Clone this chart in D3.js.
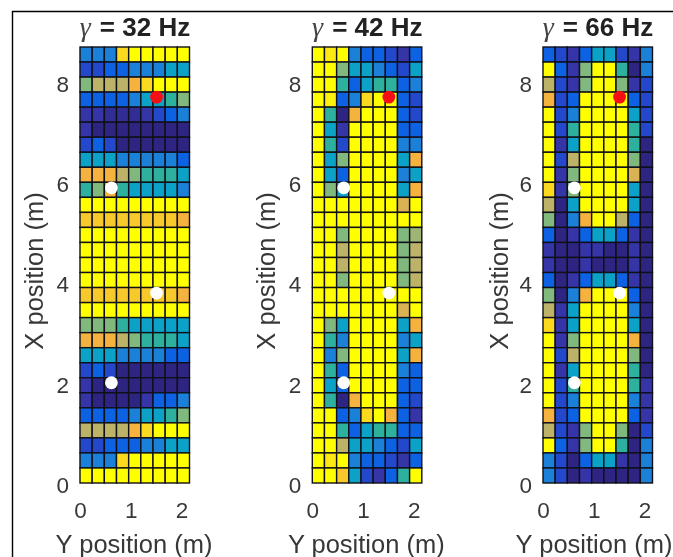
<!DOCTYPE html>
<html>
<head>
<meta charset="utf-8">
<script src="https://cdn.jsdelivr.net/npm/d3@7"></script>
<style>
html, body { margin: 0; padding: 0; background: #fff; overflow: hidden; }
svg { display: block; filter: blur(0.45px); }
text { font-family: "Liberation Sans", Arial, sans-serif; }
</style>
</head>
<body>
<script>
// levels 0-10, listed from the top row (x = 8.7 m) down to the bottom row
const rows32 = [
  [4,4,4,9.5,10,10,10,10,10],
  [2,2,3,3,4,4,4,5,5],
  [7,8,8,8,9,9.5,10,10,10],
  [3,3,3,3,4,5,5,6,7],
  [1,1,0.5,0.5,0.5,1,2,3,4],
  [1,0,0,0,0,0,0,0,0],
  [2,3,2,0,0,0,0,0,0],
  [5,5,5,4,4,4,4,4,3],
  [9,9,9,8,7,6,6,6,5],
  [6,7,9,6,5,5,5,5,4],
  [10,10,10,10,10,10,10,10,10],
  [9.3,9.3,9.3,9.3,9.3,9.3,9.3,9.3,9],
  [10,10,10,10,10,10,10,10,10],
  [10,10,10,10,10,10,10,10,10],
  [10,10,10,10,10,10,10,10,10],
  [10,10,10,10,10,10,10,10,10],
  [9.3,9.3,9.3,9.3,9.3,9.3,9.3,9.3,9],
  [10,10,10,10,10,10,10,10,10],
  [7,7,7,6,5,5,5,5,5],
  [9,9,9,8,7,6,6,6,5],
  [5,5,5,4,4,4,4,3,3],
  [2,3,2,0,0,0,0,0,0],
  [1,0,0,0,0,0,0,0,0],
  [1,0,0,0,0,1,3,3,4],
  [3,3,3,3,4,5,5,6,7],
  [8,8,8,8,9,9.5,10,10,10],
  [2,2,3,3,3,4,4,5,5],
  [4,4,4,9.5,10,10,10,10,10],
  [10,10,10,10,10,10,10,10,10]
];
const rows42 = [
  [10,9.7,10,4,3,3,2,1,3],
  [10,10,7,5,5,4,3,2,5],
  [10,10,6,3,5,6,6,3,4],
  [10,9.8,3,4,9.5,10,10,3,2],
  [10,6,0,9,10,10,10,3,2],
  [10,5,1,10,10,10,10,3,3],
  [10,6,2,10,10,10,10,4,4],
  [10,5,7,10,10,10,10,5,9],
  [10,5,3,10,10,10,10,4,5],
  [10,7,5,10,10,10,10,5,9],
  [10,10,10,10,10,10,10,8.5,10],
  [10,10,10,10,10,10,10,10,10],
  [10,10,7,10,10,10,10,7,7.5],
  [10,10,8,10,10,10,10,7,8],
  [10,10,8,10,10,10,10,7,8],
  [10,10,7,10,10,10,10,7,8],
  [10,10,10,10,10,10,10,10,10],
  [10,10,10,10,10,10,10,8.5,10],
  [10,7,5,10,10,10,10,5,9],
  [10,6,4,10,10,10,10,4,5],
  [10,4,7,10,10,10,10,5,9],
  [10,6,3,10,10,10,10,4,3],
  [10,5,3,10,10,10,10,3,3],
  [10,6,0,9,10,10,10,3,2],
  [10,10,3,4,9.5,10,9,3,1],
  [10,10,6,3,5,6,6,3,3],
  [10,10,8,5,5,4,3,2,5],
  [10,9.7,10,4,3,3,2,1,3],
  [10,10,9.3,5,2,1,3,6,10]
];
const rows66 = [
  [3,2,1,3,5,5,2,1,4],
  [10,3,1,7,10,10,6,0,4],
  [8,2,1,7,10,10,7,1,2],
  [9,2,3,10,10,10,10,3,2],
  [10,2,4,10,10,10,10,5,2],
  [10,2,6,10,10,10,10,6,2],
  [10,1,5,10,10,10,10,6,0],
  [10,2,8,10,10,10,10,7,0],
  [10,1,7,10,10,10,10,8.5,0],
  [9.5,1,7,10,10,10,10,5,0],
  [8,0,5,10,10,10,10,5,0],
  [7,0,4,9,10,10,8,3,0],
  [3,0,1,3,5,5,3,1,0],
  [1,0,0,1,1,0,0,1,0],
  [1,0,0,1,0,0,0,1,0],
  [3,0,1,3,5,5,3,1,0],
  [7,0,4,9,10,10,10,3,0],
  [8,1,5,10,10,10,10,4,0],
  [9.5,1,5,10,10,10,10,5,0],
  [10,1,7,10,10,10,10,9,0],
  [10,2,8,10,10,10,10,7,0],
  [10,1,5,10,10,10,10,6,0],
  [10,2,6,10,10,10,10,6,1],
  [10,2,4,10,10,10,10,4,1],
  [9,2,3,10,10,10,10,3,1],
  [8,2,1,7,10,10,7,0,2],
  [10,3,1,7,10,10,6,0,4],
  [4,2,0,3,5,5,1,0,4],
  [4,2,0,1,0,0,0,0,4]
];

const titles = ['32', '42', '66'];
const panelLefts = [80, 312.3, 543];
const labelOffsets = [37, 37, 35];
const xLabelCentres = [54, 54, 51];
const allRows = [rows32, rows42, rows66];

const xTicks = [0, 1, 2];
const yTicks = [0, 2, 4, 6, 8];
const cellW = 0.24, cellH = 0.3;

// microphone positions, [y, x] in metres
const whiteDots = [[0.62, 5.89], [1.51, 3.79], [0.62, 2.0]];
const redDots = [[1.51, 7.7]];

const levels = d3.range(0, 11);
const levelColors = ['#2e2582','#3535a8','#2448cc','#0c62e2','#1a80d8','#0ca2c8',
                     '#2eb09e','#80b87e','#bcb268','#f5b23e','#ffff00'];
const color = d3.scaleLinear().domain(levels).range(levelColors);

const svg = d3.select('body').append('svg')
    .attr('width', 673)
    .attr('height', 557);

svg.append('rect').attr('width', 673).attr('height', 557).attr('fill', '#fff');

// outer frame, runs off the photo to the right and bottom
svg.append('path')
    .attr('d', 'M12.5,557V11.5H673')
    .attr('fill', 'none')
    .attr('stroke', '#000')
    .attr('stroke-width', 1.4);

const plotTop = 47, plotBottom = 483, plotW = 109.5;

allRows.forEach(function (rows, p) {
    const g = svg.append('g').attr('transform', 'translate(' + panelLefts[p] + ',0)');

    const x = d3.scaleLinear().domain([0, cellW * 9]).range([0, plotW]);
    const y = d3.scaleLinear().domain([0, cellH * rows.length]).range([plotBottom, plotTop]);

    // flatten the rows into cells
    const cells = [];
    rows.forEach(function (r, i) {
        r.forEach(function (v, j) {
            cells.push({col: j, row: rows.length - 1 - i, v: v});
        });
    });

    g.selectAll('rect.cell')
        .data(cells)
        .enter().append('rect')
        .attr('class', 'cell')
        .attr('x', d => x(d.col * cellW))
        .attr('y', d => y((d.row + 1) * cellH))
        .attr('width', x(cellW) - x(0))
        .attr('height', y(0) - y(cellH))
        .attr('fill', d => color(d.v))
        .attr('stroke', '#101018')
        .attr('stroke-width', 1.4);

    // axes
    const xAxis = g.append('g')
        .attr('transform', 'translate(0,' + plotBottom + ')')
        .call(d3.axisBottom(x).tickValues(xTicks).tickSize(0).tickFormat(d3.format('d')));
    xAxis.select('.domain').remove();
    xAxis.selectAll('text')
        .attr('y', 19)
        .attr('fill', '#383838')
        .attr('font-size', 22.5);

    const yAxis = g.append('g')
        .call(d3.axisLeft(y).tickValues(yTicks).tickSize(0).tickFormat(d3.format('d')));
    yAxis.select('.domain').remove();
    yAxis.selectAll('text')
        .attr('x', -11)
        .attr('dy', '0.42em')
        .attr('fill', '#383838')
        .attr('font-size', 22.5);

    g.append('text')
        .attr('x', xLabelCentres[p])
        .attr('y', 553)
        .attr('text-anchor', 'middle')
        .attr('fill', '#383838')
        .attr('font-size', 25.5)
        .text('Y position (m)');

    g.append('text')
        .attr('transform', 'translate(' + (-labelOffsets[p]) + ',271) rotate(-90)')
        .attr('text-anchor', 'middle')
        .attr('fill', '#383838')
        .attr('font-size', 25.5)
        .text('X position (m)');

    const title = g.append('text')
        .attr('x', 55)
        .attr('y', 36)
        .attr('text-anchor', 'middle')
        .attr('fill', '#222');
    title.append('tspan')
        .attr('font-family', '"Liberation Serif", serif')
        .attr('font-style', 'italic')
        .attr('font-size', 28)
        .attr('fill', '#444')
        .text('\u03b3');
    title.append('tspan')
        .attr('dx', 9)
        .attr('font-weight', 'bold')
        .attr('font-size', 26)
        .text('= ' + titles[p] + ' Hz');

    g.selectAll('circle.white')
        .data(whiteDots)
        .enter().append('circle')
        .attr('class', 'white')
        .attr('cx', d => x(d[0]))
        .attr('cy', d => y(d[1]))
        .attr('r', 6.4)
        .attr('fill', '#fff');

    g.selectAll('circle.red')
        .data(redDots)
        .enter().append('circle')
        .attr('class', 'red')
        .attr('cx', d => x(d[0]))
        .attr('cy', d => y(d[1]))
        .attr('r', 6.4)
        .attr('fill', '#f50f14');
});
</script>
</body>
</html>
